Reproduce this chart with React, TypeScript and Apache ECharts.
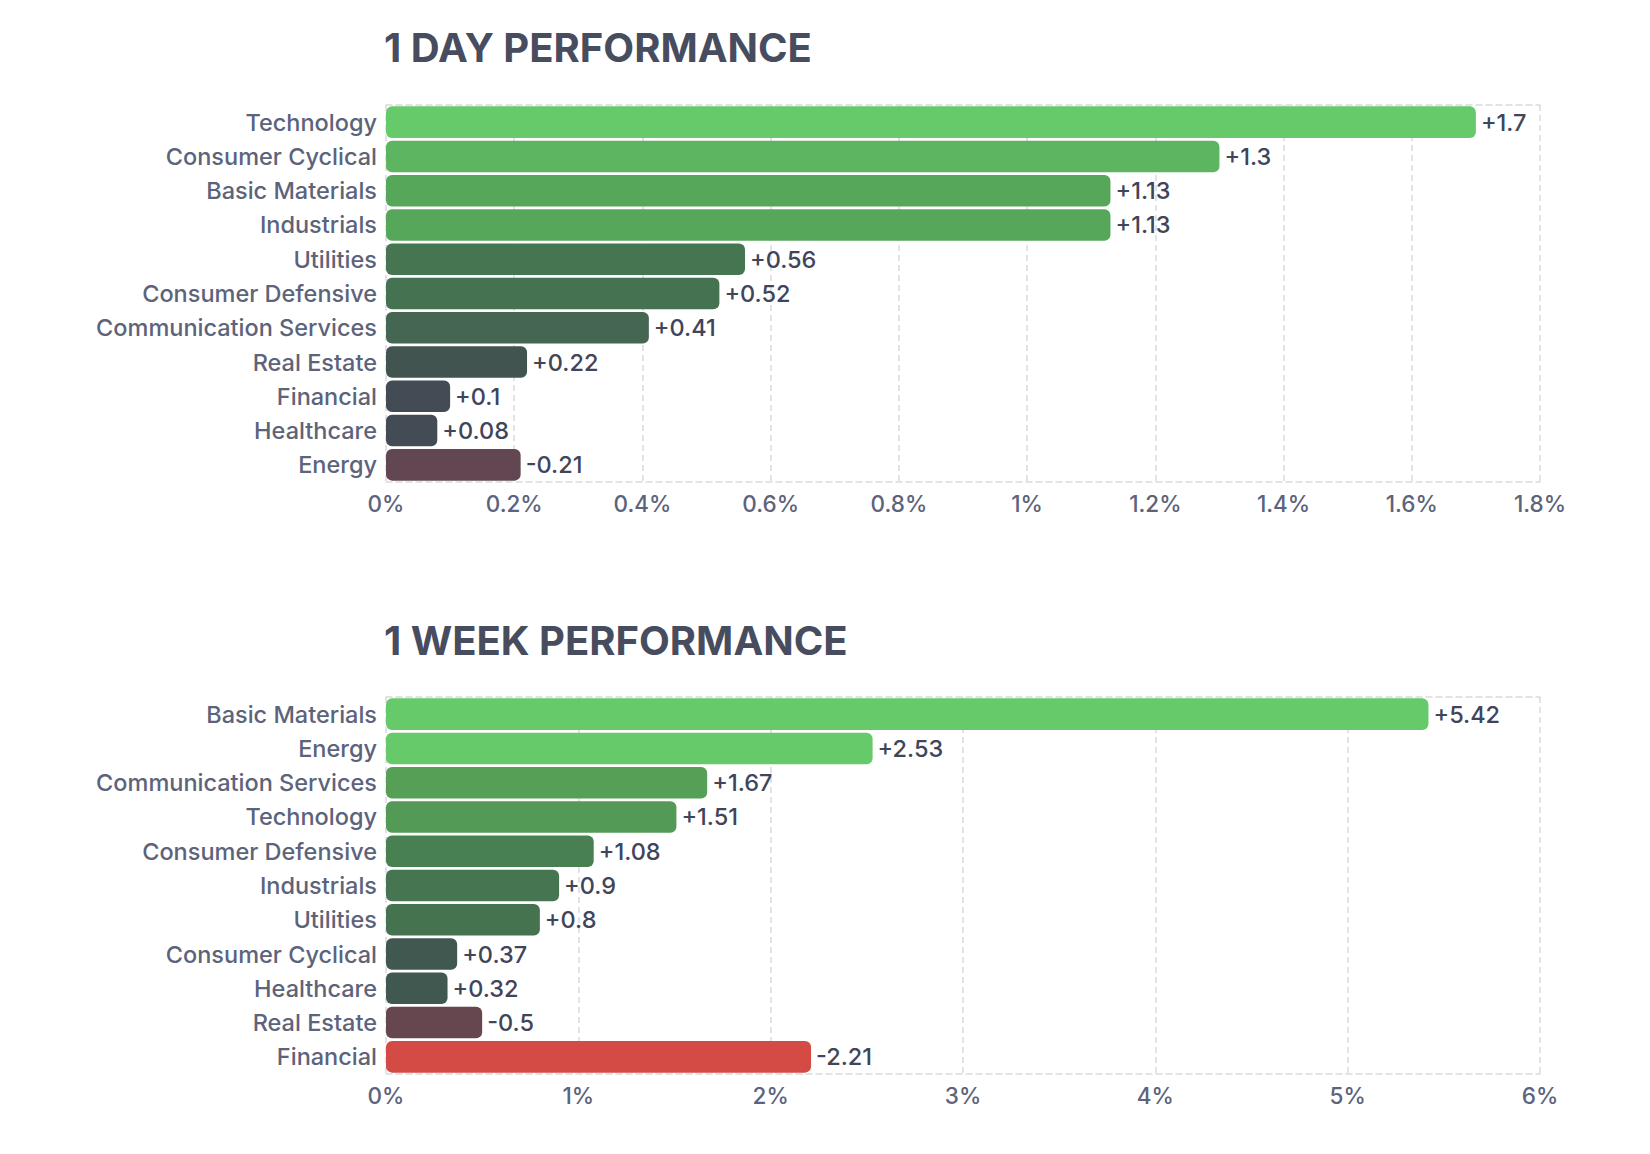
import { useEffect, useRef } from "react";
import * as echarts from "echarts";

const dayCategories = [
  "Technology", "Consumer Cyclical", "Basic Materials", "Industrials", "Utilities",
  "Consumer Defensive", "Communication Services", "Real Estate", "Financial", "Healthcare", "Energy",
];
const dayValues = [1.7, 1.3, 1.13, 1.13, 0.56, 0.52, 0.41, 0.22, 0.1, 0.08, -0.21];
const dayColors = [
  "#66c96a", "#5db562", "#57a75b", "#57a75b", "#467552", "#457351",
  "#456653", "#41544f", "#434b55", "#434b55", "#624753",
];

const weekCategories = [
  "Basic Materials", "Energy", "Communication Services", "Technology", "Consumer Defensive",
  "Industrials", "Utilities", "Consumer Cyclical", "Healthcare", "Real Estate", "Financial",
];
const weekValues = [5.42, 2.53, 1.67, 1.51, 1.08, 0.9, 0.8, 0.37, 0.32, -0.5, -2.21];
const weekColors = [
  "#66c96a", "#66c96a", "#559f57", "#539a56", "#498052", "#467552",
  "#457350", "#415850", "#415850", "#66464f", "#d44a45",
];

const FONT = "Inter, 'Noto Sans', sans-serif";
const GRID_LINE = { color: "#d9d9df", type: [6, 4] as any, width: 1.5 };
const LABEL_COLOR = "#5c637a";
const VALUE_COLOR = "#40455a";

const signed = (v: number) => (v > 0 ? `+${v}` : `${v}`);

function barSeries(values: number[], colors: string[], idx: number) {
  return {
    type: "bar",
    xAxisIndex: idx * 2,
    yAxisIndex: idx,
    barCategoryGap: "8%",
    data: values.map((v, i) => ({
      value: Math.abs(v),
      itemStyle: { color: colors[i], borderRadius: 6 },
      label: { formatter: signed(v) },
    })),
    label: {
      show: true,
      position: "right",
      distance: 5,
      color: VALUE_COLOR,
      fontFamily: FONT,
      fontSize: 23.5,
      fontWeight: 500,
    },
  };
}

function valueAxes(gridIndex: number, max: number, interval: number) {
  return [
    {
      type: "value",
      gridIndex,
      min: 0,
      max,
      interval,
      axisLine: { show: true, lineStyle: GRID_LINE },
      axisTick: { show: false },
      axisLabel: {
        color: LABEL_COLOR,
        fontFamily: FONT,
        fontSize: 22.5,
        fontWeight: 500,
        margin: 10,
        formatter: (v: number) => `${parseFloat(v.toFixed(1))}%`,
      },
      splitLine: { show: true, lineStyle: GRID_LINE },
    },
    {
      type: "value",
      gridIndex,
      position: "top",
      min: 0,
      max,
      interval,
      axisLine: { show: true, lineStyle: GRID_LINE },
      axisTick: { show: false },
      axisLabel: { show: false },
      splitLine: { show: false },
    },
  ];
}

function categoryAxis(gridIndex: number, data: string[]) {
  return {
    type: "category",
    gridIndex,
    data,
    inverse: true,
    axisLine: { show: false },
    axisTick: { show: false },
    axisLabel: {
      color: LABEL_COLOR,
      fontFamily: FONT,
      fontSize: 23.5,
      fontWeight: 500,
      margin: 9,
    },
  };
}

export default function App() {
  const containerRef = useRef<HTMLDivElement>(null);

  useEffect(() => {
    document.body.style.margin = "0";
    if (!containerRef.current) return;
    const chart = echarts.init(containerRef.current, null, { renderer: "svg" });

    const titleStyle = {
      color: "#474d5e",
      fontFamily: FONT,
      fontSize: 40,
      fontWeight: 700,
    };

    chart.setOption({
      backgroundColor: "#ffffff",
      animation: false,
      title: [
        { text: "1 DAY PERFORMANCE", left: 384, top: 27, padding: 0, textStyle: titleStyle },
        { text: "1 WEEK PERFORMANCE", left: 384, top: 620, padding: 0, textStyle: titleStyle },
      ],
      grid: [
        { left: 386, width: 1154, top: 105, height: 377 },
        { left: 386, width: 1154, top: 697, height: 377 },
      ],
      xAxis: [...valueAxes(0, 1.8, 0.2), ...valueAxes(1, 6, 1)],
      yAxis: [categoryAxis(0, dayCategories), categoryAxis(1, weekCategories)],
      series: [barSeries(dayValues, dayColors, 0), barSeries(weekValues, weekColors, 1)],
    });

    return () => chart.dispose();
  }, []);

  return <div ref={containerRef} style={{ width: 1650, height: 1154 }} />;
}
